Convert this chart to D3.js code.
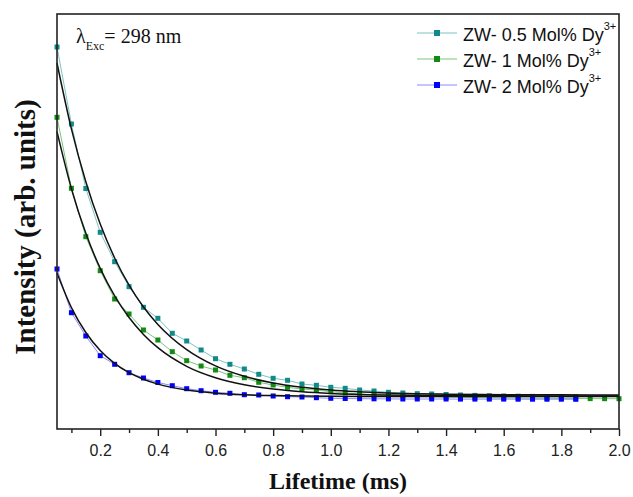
<!DOCTYPE html>
<html><head><meta charset="utf-8">
<script src="https://cdn.jsdelivr.net/npm/d3@7"></script>
<style>body{margin:0;background:#fff}svg{display:block}</style>
</head><body><svg id="c" width="633" height="497"></svg>
<script>
const times = [0.05,0.10,0.15,0.20,0.25,0.30,0.35,0.40,0.45,0.50,0.55,0.60,0.65,0.70,0.75,0.80,0.85,0.90,0.95,1.00,1.05,1.10,1.15,1.20,1.25,1.30,1.35,1.40,1.45,1.50,1.55,1.60,1.65,1.70,1.75,1.80,1.85,1.90,1.95,2.00];
const teal = [382,305,240.5,196.7,167.3,142.3,121.7,110.7,95.7,88,79,70.3,64.7,60,54.7,50.7,48.7,45,43.7,41.7,40.7,39,38,36.7,36,35.3,35,34.5,34,33.6,33.3,33,32.8,32.6,32.4,32.3,32.2];
const green = [311.7,240.7,192.3,158.3,130,115,99,89,77.3,68.3,63,59,53.7,51.3,46.7,44,41.7,40,39,37.3,36,35,34.3,33.7,33.3,32.8,32.5,32,31.7,31.4,31.2,31,30.9,30.8,30.7,30.6,30.5,30.4,30.3,30.3];
const blue = [160,116.3,93,73.3,64.7,56.3,51,46.5,43.3,40.3,38.3,36.7,35.7,34.3,34,33,32.3,32,31.3,30.7,30.5,30.3,30.2,30.1,30,30,30,30,29.9,29.9,29.9,29.9,29.8,29.8,29.8,29.8,29.7];
const fitTimes = [0.05,0.10,0.15,0.20,0.25,0.30,0.35,0.40,0.50,0.60,0.70,0.80,0.90,1.00,1.20,1.40,1.60,1.80,2.00];
const tealFit = [366,300.1,247.3,205.0,171.0,143.8,122.0,104.6,79.4,63.1,52.7,46.0,41.7,39.0,36.0,34.8,34.35,34.15,34.05];
const greenFit = [297.3,240.3,195.7,160.6,133.1,111.5,94.6,81.3,62.7,51.3,44.3,39.9,37.3,35.6,34.0,33.4,33.14,33.05,33.02];
const blueFit = [156,121.4,96.5,78.5,65.6,56.3,49.7,44.85,38.9,35.8,34.2,33.4,32.97,32.74,32.56,32.5,32.5,32.5,32.5];
const seriesNames = ["ZW- 0.5 Mol% Dy","ZW- 1 Mol% Dy","ZW- 2 Mol% Dy"];
const xTickLabels = [0.2,0.4,0.6,0.8,1.0,1.2,1.4,1.6,1.8,2.0];
const xMinorTicks = [0.1,0.3,0.5,0.7,0.9,1.1,1.3,1.5,1.7,1.9];

const svg = d3.select("#c");
const L=57, T=14, R=619, B=429;
const x = d3.scaleLinear().domain([0.05,2.0]).range([L,R]);
const y = d3.scaleLinear().domain([0,415]).range([B,T]);

const series = [
  {name:seriesNames[0], vals:teal, fit:tealFit, mc:"#138a8a", lc:"#7cc3c3"},
  {name:seriesNames[1], vals:green, fit:greenFit, mc:"#138a13", lc:"#7cc47c"},
  {name:seriesNames[2], vals:blue, fit:blueFit, mc:"#0000ff", lc:"#8a8aff"}
];

const line = d3.line().x(d=>x(d[0])).y(d=>y(d[1]));
const fitLine = d3.line().x(d=>x(d[0])).y(d=>y(d[1])).curve(d3.curveMonotoneX);

const plot = svg.append("g");
series.forEach(s=>{
  const pts = s.vals.map((v,i)=>[times[i],v]);
  plot.append("path").attr("d",line(pts)).attr("fill","none").attr("stroke",s.lc).attr("stroke-width",1);
});
series.forEach(s=>{
  const pts = s.vals.map((v,i)=>[times[i],v]);
  plot.selectAll(null).data(pts).enter().append("rect")
    .attr("x",d=>x(d[0])-2.5).attr("y",d=>y(d[1])-2.5).attr("width",5).attr("height",5).attr("fill",s.mc);
});
series.forEach(s=>{
  const pts = s.fit.map((v,i)=>[fitTimes[i],v]);
  plot.append("path").attr("d",fitLine(pts)).attr("fill","none").attr("stroke","#111").attr("stroke-width",1.5);
});

// frame
svg.append("rect").attr("x",L).attr("y",T).attr("width",R-L).attr("height",B-T)
  .attr("fill","none").attr("stroke","#222").attr("stroke-width",1.6);

// x axis
const xAxis = d3.axisBottom(x).tickValues(xTickLabels).tickFormat(d3.format(".1f")).tickSize(7).tickSizeOuter(0);
const gx = svg.append("g").attr("transform",`translate(0,${B})`).call(xAxis);
gx.select(".domain").remove();
gx.selectAll(".tick line").attr("stroke","#222").attr("stroke-width",1.4);
gx.selectAll(".tick text").attr("font-family","Liberation Sans, Arial, sans-serif").attr("font-size",16).attr("fill","#222").attr("dy","1.05em");
const xMinor = d3.axisBottom(x).tickValues(xMinorTicks).tickSize(4).tickFormat("");
const gm = svg.append("g").attr("transform",`translate(0,${B})`).call(xMinor);
gm.select(".domain").remove();
gm.selectAll(".tick line").attr("stroke","#222").attr("stroke-width",1.4);

// axis titles
svg.append("text").attr("x",338).attr("y",489).attr("text-anchor","middle")
  .attr("font-family","Liberation Serif, Times New Roman, serif").attr("font-weight","bold").attr("font-size",24).attr("fill","#111")
  .text("Lifetime (ms)");
svg.append("text").attr("transform","translate(35,227) rotate(-90)").attr("text-anchor","middle")
  .attr("font-family","Liberation Serif, Times New Roman, serif").attr("font-weight","bold").attr("font-size",29).attr("fill","#111")
  .text("Intensity (arb. units)");

// lambda label
const lt = svg.append("text").attr("x",76).attr("y",43).attr("font-family","Liberation Serif, Times New Roman, serif").attr("font-size",20).attr("fill","#111");
lt.append("tspan").text("λ");
lt.append("tspan").attr("font-size",12).attr("dy",7).text("Exc");
lt.append("tspan").attr("dy",-7).text("= 298 nm");

// legend
const rows=[33,59,85];
series.forEach((s,i)=>{
  const g = svg.append("g").attr("transform",`translate(0,${rows[i]})`);
  g.append("line").attr("x1",417).attr("x2",457).attr("y1",0).attr("y2",0).attr("stroke",s.lc).attr("stroke-width",1);
  g.append("rect").attr("x",434).attr("y",-3).attr("width",6).attr("height",6).attr("fill",s.mc);
  const t = g.append("text").attr("x",463).attr("y",7.5).attr("font-family","Liberation Sans, Arial, sans-serif").attr("font-size",18).attr("fill","#111");
  t.append("tspan").text(s.name);
  t.append("tspan").attr("font-size",11).attr("dy",-11).text("3+");
});
</script></body></html>
